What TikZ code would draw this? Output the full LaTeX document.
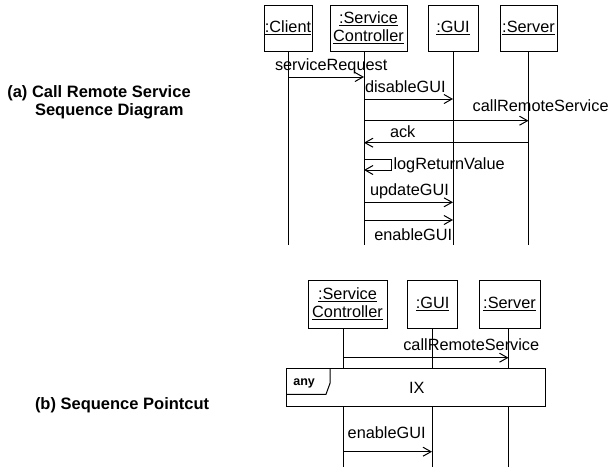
\documentclass[tikz,border=0pt]{standalone}
\usepackage{fontspec}
\setmainfont{Liberation Sans}
\usetikzlibrary{arrows.meta}

\begin{document}
\begin{tikzpicture}[x=1pt,y=-1pt,
  every node/.style={inner sep=0pt,outer sep=0pt},
  txt/.style={font=\fontsize{16.3}{18}\selectfont},
  caption/.style={font=\fontsize{16.5}{18}\selectfont\bfseries, anchor=base west},
  lbl/.style={txt, anchor=base west},
  obj/.style={draw, line width=1pt, fill=white, txt, align=center},
  life/.style={line width=1pt},
  msg/.style={line width=1pt, -{Straight Barb[length=8pt,width=9pt,line width=1pt]}},
  fragment/.style={draw, line width=1pt, fill=white}
]
\useasboundingbox (0,0) rectangle (610,467);

% ---------- (a) call remote service ----------
\node[caption] (capa1) at (7.3,97) {(a) Call Remote Service};
\node[caption] (capa2) at (35,115) {Sequence Diagram};

\node[obj, minimum width=48, minimum height=46] (cl)  at (288,28)   {\underline{:Client}};
\node[obj, minimum width=77, minimum height=46] (sc)  at (368.5,28) {\underline{:Service}\\\underline{Controller}};
\node[obj, minimum width=50, minimum height=46] (gui) at (453,28)   {\underline{:GUI}};
\node[obj, minimum width=57, minimum height=46] (srv) at (528.5,28) {\underline{:Server}};

% lifeline ends
\coordinate (clE)  at (288,245);
\coordinate (scE)  at (364,245);
\coordinate (guiE) at (453,245);
\coordinate (srvE) at (528.5,245);

\draw[life] (cl.south)  -- (clE);
\draw[life] (sc.south -| scE) -- (scE);
\draw[life] (gui.south) -- (guiE);
\draw[life] (srv.south) -- (srvE);

% messages
\draw[msg] (clE |- 0,77)  -- (scE |- 0,77);
\node[lbl] (m1) at (275,70) {serviceRequest};

\draw[msg] (scE |- 0,99)  -- (guiE |- 0,99);
\node[lbl] (m2) at (365,92.3) {disableGUI};

\draw[msg] (scE |- 0,120.7) -- (srvE |- 0,120.7);
\node[lbl] (m3) at (472.7,111.7) {callRemoteService};

\draw[msg] (srvE |- 0,142.7) -- (scE |- 0,142.7);
\node[lbl] (m4) at (390,137.3) {ack};

\draw[msg] (scE |- 0,159.3) -- ++(27,0) -- ++(0,10.7) -- (scE |- 0,170);
\node[lbl] (m5) at (393.5,169.3) {logReturnValue};

\draw[msg] (scE |- 0,202.3) -- (guiE |- 0,202.3);
\node[lbl] (m6) at (370,195) {updateGUI};

\draw[msg] (scE |- 0,220) -- (guiE |- 0,220);
\node[lbl] (m7) at (374.3,240) {enableGUI};

% ---------- (b) sequence pointcut ----------
\node[caption] (capb) at (35,409.3) {(b) Sequence Pointcut};

\node[obj, minimum width=79, minimum height=48] (sc2)  at (347.5,304) {\underline{:Service}\\\underline{Controller}};
\node[obj, minimum width=50, minimum height=48] (gui2) at (432.7,304) {\underline{:GUI}};
\node[obj, minimum width=61, minimum height=48] (srv2) at (509.5,304) {\underline{:Server}};

\coordinate (sc2E)  at (343,467);
\coordinate (gui2E) at (432,467);
\coordinate (srv2E) at (508.5,467);

\draw[life] (sc2.south -| sc2E) -- (sc2E);
\draw[life] (gui2.south -| gui2E) -- (gui2E);
\draw[life] (srv2.south -| srv2E) -- (srv2E);

\draw[msg] (sc2E |- 0,357.7) -- (srv2E |- 0,357.7);
\node[lbl] (n1) at (403.3,350) {callRemoteService};

% combined fragment covering the lifelines
\node[fragment, minimum width=259, minimum height=38.5] (frag) at (416.2,387.5) {};
\draw[line width=1pt] (frag.north west -| 330,0) -- (330,383.3) -- (326,394.3) -- (frag.west |- 0,394.3);
\node[font=\fontsize{12.5}{14}\selectfont\bfseries, anchor=base west] (anyl) at (293.3,385) {any};
\node[lbl] (ix) at (409,393.3) {IX};

\draw[msg] (sc2E |- 0,451.7) -- (gui2E |- 0,451.7);
\node[lbl] (n2) at (347.7,438.3) {enableGUI};

\end{tikzpicture}
\end{document}
